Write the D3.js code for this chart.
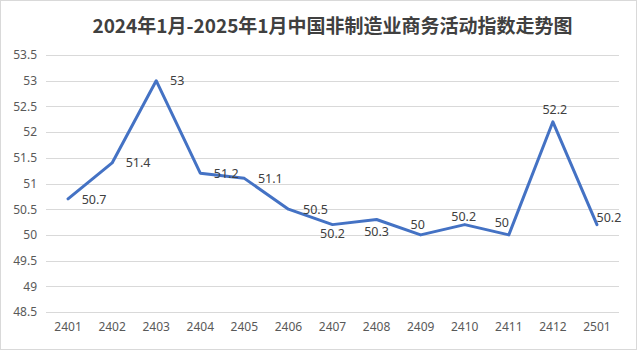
<!DOCTYPE html>
<html>
<head>
<meta charset="utf-8">
<script src="https://cdn.jsdelivr.net/npm/d3@7"></script>
<style>
  html, body { margin: 0; padding: 0; background: #fff; }
  svg { display: block; }
</style>
</head>
<body>
<svg id="chart" width="637" height="350"></svg>
<script>
// 非制造业商务活动指数（月度）
const months = ["2401","2402","2403","2404","2405","2406","2407","2408","2409","2410","2411","2412","2501"];
const index = [50.7, 51.4, 53, 51.2, 51.1, 50.5, 50.2, 50.3, 50, 50.2, 50, 52.2, 50.2];
const yTicks = [48.5, 49, 49.5, 50, 50.5, 51, 51.5, 52, 52.5, 53, 53.5];
const title = "2024年1月-2025年1月中国非制造业商务活动指数走势图";

// 数据标签相对数据点的偏移 [dx, dy]（文字中心）
const labelNudge = [
  [26, 1], [26, 0], [21, 0], [26, 0], [26, 0], [27, 0],
  [0, 9], [0, 12], [-3, -10], [-1, -8], [-7, -12], [2, -12], [12, -7]
];

const W = 637, H = 350;
const plot = { left: 46, right: 619, top: 55, bottom: 312 };
const svg = d3.select("#chart");
const numFont = "'Noto Sans', 'DejaVu Sans', sans-serif";

// 外边框
svg.append("rect")
  .attr("x", 0.5).attr("y", 0.5)
  .attr("width", W - 1).attr("height", H - 1)
  .attr("fill", "#fff").attr("stroke", "#d9d9d9");

// 标题
svg.append("text")
  .attr("x", (plot.left + plot.right) / 2).attr("y", 33)
  .attr("text-anchor", "middle")
  .attr("font-family", "'Noto Sans CJK SC', sans-serif")
  .attr("font-weight", "bold")
  .attr("font-size", 19)
  .attr("fill", "#404040")
  .text(title);

const x = d3.scaleBand().domain(months).range([plot.left, plot.right]);
const y = d3.scaleLinear().domain([48.5, 53.5]).range([plot.bottom, plot.top]);

// 横向网格线
svg.append("g")
  .selectAll("line").data(yTicks).join("line")
  .attr("x1", plot.left).attr("x2", plot.right)
  .attr("y1", d => Math.round(y(d)) + 0.5).attr("y2", d => Math.round(y(d)) + 0.5)
  .attr("stroke", "#d9d9d9").attr("stroke-width", 1);

// 纵轴
const yAxis = svg.append("g")
  .attr("transform", `translate(${plot.left},0)`)
  .call(d3.axisLeft(y).tickValues(yTicks).tickSize(0).tickPadding(9).tickFormat(d => String(d)));
yAxis.select(".domain").remove();
yAxis.selectAll("text")
  .attr("font-family", numFont).attr("font-size", 12).attr("fill", "#595959");

// 横轴
const xAxis = svg.append("g")
  .attr("transform", `translate(0,${plot.bottom})`)
  .call(d3.axisBottom(x).tickSize(0).tickPadding(10));
xAxis.select(".domain").remove();
xAxis.selectAll("text")
  .attr("font-family", numFont).attr("font-size", 12).attr("fill", "#595959");

// 折线
const cx = d => x(d) + x.bandwidth() / 2;
const line = d3.line().x((d, i) => cx(months[i])).y(d => y(d));
svg.append("path")
  .datum(index)
  .attr("d", line)
  .attr("fill", "none")
  .attr("stroke", "#4472c4")
  .attr("stroke-width", 3)
  .attr("stroke-linejoin", "round")
  .attr("stroke-linecap", "round");

// 数据标签
svg.append("g")
  .selectAll("text").data(index).join("text")
  .attr("x", (d, i) => cx(months[i]) + labelNudge[i][0])
  .attr("y", (d, i) => y(d) + labelNudge[i][1])
  .attr("dy", "0.35em")
  .attr("text-anchor", "middle")
  .attr("font-family", numFont).attr("font-size", 12.5).attr("fill", "#404040")
  .text(d => String(d));
</script>
</body>
</html>
